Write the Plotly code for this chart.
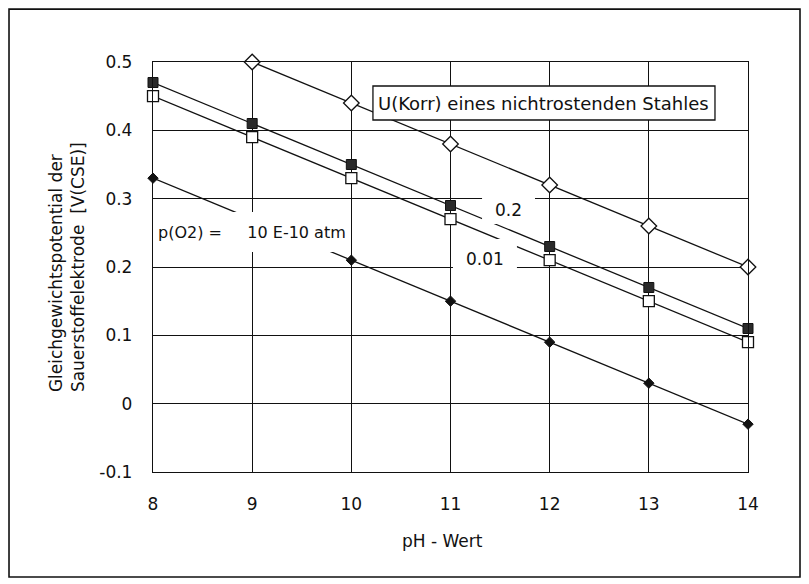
import plotly.graph_objects as go

# ---- data ----
ph = [8, 9, 10, 11, 12, 13, 14]
ph_korr = [9, 10, 11, 12, 13, 14]
u_korr = [0.50, 0.44, 0.38, 0.32, 0.26, 0.20]          # U(Korr) nichtrostender Stahl
e_p02 = [0.47, 0.41, 0.35, 0.29, 0.23, 0.17, 0.11]      # p(O2) = 0.2 atm
e_p001 = [0.45, 0.39, 0.33, 0.27, 0.21, 0.15, 0.09]     # p(O2) = 0.01 atm
e_p1e10 = [0.33, 0.27, 0.21, 0.15, 0.09, 0.03, -0.03]   # p(O2) = 10 E-10 atm

x_ticks = [8, 9, 10, 11, 12, 13, 14]
y_ticks = [-0.1, 0, 0.1, 0.2, 0.3, 0.4, 0.5]
y_ticktext = ["-0.1", "0", "0.1", "0.2", "0.3", "0.4", "0.5"]

FONT = "DejaVu Sans"
INK = "#111111"

fig = go.Figure()

line_style = dict(color=INK, width=1.3)

fig.add_trace(go.Scatter(
    x=ph, y=e_p1e10, mode="lines+markers", line=line_style,
    marker=dict(symbol="diamond", size=8, color=INK, line=dict(color=INK, width=1)),
    cliponaxis=False, showlegend=False))
fig.add_trace(go.Scatter(
    x=ph, y=e_p02, mode="lines+markers", line=line_style,
    marker=dict(symbol="square", size=10, color="#2a2a2a", line=dict(color=INK, width=1)),
    cliponaxis=False, showlegend=False))
fig.add_trace(go.Scatter(
    x=ph, y=e_p001, mode="lines+markers", line=line_style,
    marker=dict(symbol="square", size=11, color="white", line=dict(color=INK, width=1.3)),
    cliponaxis=False, showlegend=False))
fig.add_trace(go.Scatter(
    x=ph_korr, y=u_korr, mode="lines+markers", line=line_style,
    marker=dict(symbol="diamond", size=12, color="white", line=dict(color=INK, width=1.3)),
    cliponaxis=False, showlegend=False))

# white boxes behind in-plot labels (cover lines and grid)
cover_boxes = [
    (8.03, 9.966, 0.2219, 0.2805),     # p(O2) label
    (11.318, 11.852, 0.2629, 0.3039),  # 0.2
    (11.025, 11.670, 0.1824, 0.2410),  # 0.01
]
shapes = []
for x0, x1, y0, y1 in cover_boxes:
    shapes.append(dict(type="rect", xref="x", yref="y", x0=x0, x1=x1, y0=y0, y1=y1,
                       fillcolor="white", line=dict(width=0), layer="above"))
# legend-like box
shapes.append(dict(type="rect", xref="x", yref="y", x0=10.218, x1=13.667, y0=0.4151, y1=0.4649,
                   fillcolor="white", line=dict(color=INK, width=1.3), layer="above"))
# outer frame
shapes.append(dict(type="rect", xref="paper", yref="paper", x0=-0.2420, x1=1.0874,
                   y0=-0.256, y1=1.1290, line=dict(color=INK, width=1.6), layer="below"))

annotations = [
    dict(x=11.94, y=0.440, xref="x", yref="y", text="U(Korr) eines nichtrostenden Stahles",
         showarrow=False, font=dict(family=FONT, size=18, color=INK)),
    dict(x=11.585, y=0.2834, xref="x", yref="y", text="0.2",
         showarrow=False, font=dict(family=FONT, size=17, color=INK)),
    dict(x=11.345, y=0.2117, xref="x", yref="y", text="0.01",
         showarrow=False, font=dict(family=FONT, size=17, color=INK)),
    dict(x=8.995, y=0.2512, xref="x", yref="y",
         text="p(O2) =\u00a0\u00a0\u00a0\u00a0\u00a010 E-10 atm",
         showarrow=False, font=dict(family=FONT, size=16, color=INK)),
    dict(x=0.4866, y=-0.168, xref="paper", yref="paper", text="pH - Wert",
         showarrow=False, xanchor="center", yanchor="middle",
         font=dict(family=FONT, size=17, color=INK)),
    dict(x=-0.1445, y=0.19, xref="paper", yref="paper",
         text="Gleichgewichtspotential der<br>Sauerstoffelektrode  [V(CSE)]",
         textangle=-90, align="left", showarrow=False, xanchor="center", yanchor="bottom",
         font=dict(family=FONT, size=17, color=INK)),
]

fig.update_layout(
    width=801, height=576,
    margin=dict(l=145, r=61, t=54, b=112),
    paper_bgcolor="white", plot_bgcolor="white",
    shapes=shapes, annotations=annotations,
    font=dict(family=FONT, size=17, color=INK),
    xaxis=dict(range=[8, 14], tickvals=x_ticks, showgrid=True, gridcolor=INK, gridwidth=1.2,
               showline=True, linecolor=INK, linewidth=1.3, mirror=True, zeroline=False,
               ticks="", ticklabelstandoff=16, tickfont=dict(family=FONT, size=17, color=INK)),
    yaxis=dict(range=[-0.1, 0.5], tickvals=y_ticks, ticktext=y_ticktext, showgrid=True,
               gridcolor=INK, gridwidth=1.2, showline=True, linecolor=INK, linewidth=1.3,
               mirror=True, zeroline=False, ticks="", ticklabelstandoff=16,
               tickfont=dict(family=FONT, size=17, color=INK)),
)

fig.write_html("out.html")
